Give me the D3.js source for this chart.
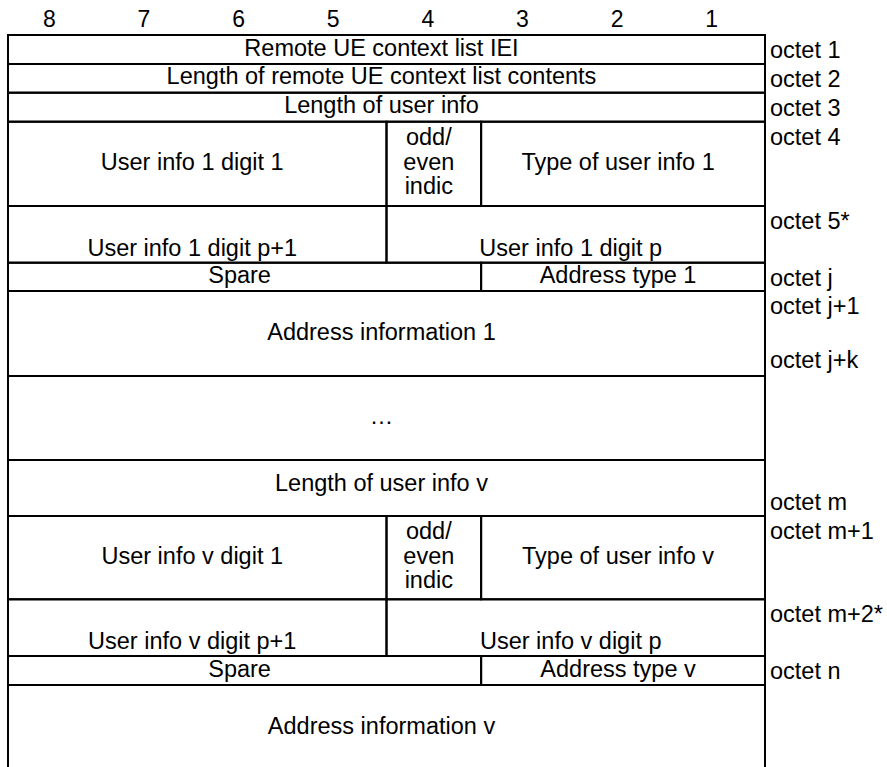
<!DOCTYPE html>
<html>
<head>
<meta charset="utf-8">
<script src="https://cdn.jsdelivr.net/npm/d3@7"></script>
<style>
  html, body { margin: 0; padding: 0; background: #fff; }
  svg { display: block; }
  text { font-family: "Liberation Sans", Arial, sans-serif; fill: #000; }
</style>
</head>
<body>
<div id="chart"></div>
<script>
// ---------------- data ----------------
const bitLabels = ["8", "7", "6", "5", "4", "3", "2", "1"];

// height of each table row, in text lines
const rowLines = [1, 1, 1, 3, 2, 1, 3, 3, 2, 3, 2, 1, 3];

// octet labels written to the right of each row (one entry per text line)
const octetLabels = [
  ["octet 1"],
  ["octet 2"],
  ["octet 3"],
  ["octet 4"],
  ["octet 5*"],
  ["octet j"],
  ["octet j+1", "", "octet j+k"],
  [],
  ["", "octet m"],
  ["octet m+1"],
  ["octet m+2*"],
  ["octet n"],
  []
];

// cells: [row index, highest bit, lowest bit, text lines, vertical placement]
const cells = [
  [0, 8, 1, ["Remote UE context list IEI"], "middle"],
  [1, 8, 1, ["Length of remote UE context list contents"], "middle"],
  [2, 8, 1, ["Length of user info"], "middle"],
  [3, 8, 5, ["User info 1 digit 1"], "middle"],
  [3, 4, 4, ["odd/", "even", "indic"], "middle"],
  [3, 3, 1, ["Type of user info 1"], "middle"],
  [4, 8, 5, ["User info 1 digit p+1"], "bottom"],
  [4, 4, 1, ["User info 1 digit p"], "bottom"],
  [5, 8, 4, ["Spare"], "middle"],
  [5, 3, 1, ["Address type 1"], "middle"],
  [6, 8, 1, ["Address information 1"], "middle"],
  [7, 8, 1, ["\u2026"], "middle"],
  [8, 8, 1, ["Length of user info v"], "upper"],
  [9, 8, 5, ["User info v digit 1"], "middle"],
  [9, 4, 4, ["odd/", "even", "indic"], "middle"],
  [9, 3, 1, ["Type of user info v"], "middle"],
  [10, 8, 5, ["User info v digit p+1"], "bottom"],
  [10, 4, 1, ["User info v digit p"], "bottom"],
  [11, 8, 4, ["Spare"], "middle"],
  [11, 3, 1, ["Address type v"], "middle"],
  [12, 8, 1, ["Address information v"], "middle"]
];

// ---------------- layout ----------------
const W = 887, H = 767;
const tableLeft = 8, tableRight = 765;
const rowEdgesPx = [35, 64, 92.7, 121.7, 206, 262.7, 291, 376, 460, 516, 599.3, 656, 685, 770];
const fontSize = 23.5;
const lineGap = 24.5;

const svg = d3.select("#chart").append("svg")
  .attr("width", W).attr("height", H)
  .style("background", "#fff");

// bit (column) scale: bit 8 on the left edge, bit 0 boundary on the right edge
const xBit = d3.scaleLinear().domain([8, 0]).range([tableLeft, tableRight]);
const xBand = d3.scaleBand().domain(bitLabels).range([tableLeft, tableRight]);

// row scale: cumulative line units -> pixel edges
const cum = [0];
rowLines.forEach(n => cum.push(cum[cum.length - 1] + n));
const yLine = d3.scaleLinear().domain(cum).range(rowEdgesPx);
const rowTop = i => yLine(cum[i]);
const rowBottom = i => yLine(cum[i + 1]);

// header numerals
svg.append("g").selectAll("text")
  .data(bitLabels)
  .join("text")
  .attr("x", d => xBand(d) + xBand.bandwidth() / 2 - 6)
  .attr("y", 27)
  .attr("text-anchor", "middle")
  .style("font-size", "23px")
  .text(d => d);

// cell boxes
const cellG = svg.append("g");
cellG.selectAll("rect")
  .data(cells)
  .join("rect")
  .attr("x", d => xBit(d[1]))
  .attr("y", d => rowTop(d[0]))
  .attr("width", d => xBit(d[2] - 1) - xBit(d[1]))
  .attr("height", d => rowBottom(d[0]) - rowTop(d[0]))
  .attr("fill", "none")
  .attr("stroke", "#000")
  .attr("stroke-width", 2);

// cell texts
function baseline(d, i) {
  const t = rowTop(d[0]), b = rowBottom(d[0]);
  const n = d[3].length;
  if (d[4] === "bottom") return b - 7;
  if (d[4] === "upper") return t + 31;
  return (t + b) / 2 + 6 + (i - (n - 1) / 2) * lineGap;
}
const textG = svg.append("g");
cells.forEach(d => {
  const cx = (xBit(d[1]) + xBit(d[2] - 1)) / 2 - 5;
  d[3].forEach((line, i) => {
    textG.append("text")
      .attr("x", cx)
      .attr("y", baseline(d, i))
      .attr("text-anchor", "middle")
      .style("font-size", fontSize + "px")
      .text(line);
  });
});

// octet labels
const labG = svg.append("g");
octetLabels.forEach((labs, r) => {
  labs.forEach((lab, i) => {
    if (!lab) return;
    labG.append("text")
      .attr("x", tableRight + 5)
      .attr("y", rowTop(r) + 23 + i * 27)
      .attr("text-anchor", "start")
      .style("font-size", fontSize + "px")
      .text(lab);
  });
});
</script>
</body>
</html>
